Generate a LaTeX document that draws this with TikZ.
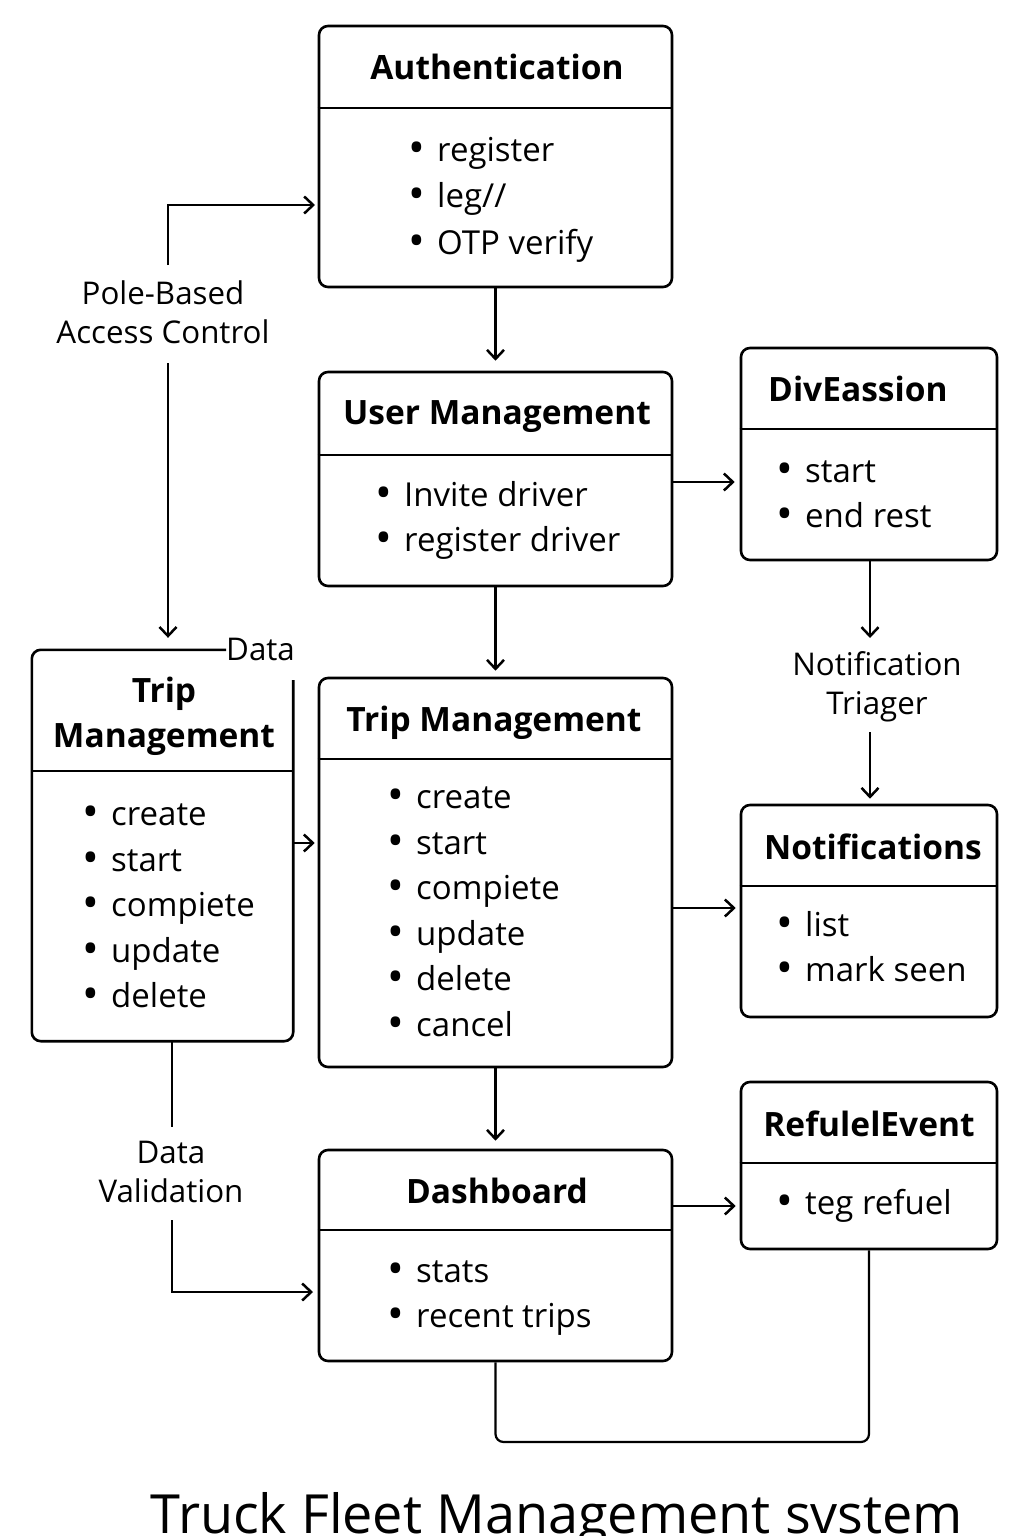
\documentclass[tikz,border=0pt]{standalone}
\usepackage{fontspec}
\usepackage{graphicx}
\setmainfont{Open Sans}
\usetikzlibrary{arrows.meta}
\newcommand\bul[1]{\makebox[29pt][l]{\raisebox{-2pt}{\scalebox{1.35}{\textbullet}}}#1}
\begin{document}
\begin{tikzpicture}[x=1pt,y=-1pt,
  box/.style={draw, line width=2.6pt, rounded corners=9pt, inner sep=0pt},
  ghost/.style={inner sep=0pt},
  ttl/.style={font=\fontsize{33.5}{45}\selectfont\bfseries, inner sep=0pt, text depth=0pt},
  items/.style={font=\fontsize{33}{45.5}\selectfont, align=left, anchor=west, inner sep=0pt},
  lbl/.style={font=\fontsize{31.3}{39}\selectfont, align=center, inner sep=0pt},
  divider/.style={line width=2.2pt},
  conn/.style={line width=2.2pt, -{Straight Barb[length=9pt,width=17pt,line width=2.5pt]}},
  plain/.style={line width=2.2pt},
]
\useasboundingbox[fill=white] (0,0) rectangle (1024,1536);

% ---------- Authentication ----------
\node[box, minimum width=353pt, minimum height=261pt] (auth) at (495.5,156.5) {};
\draw[divider] (auth.west |- 0,108) -- (auth.east |- 0,108);
\node[ttl] (authT) at (497,67) {Authentication};
\node[items, font=\fontsize{33}{46.5}\selectfont] (authL) at (408,199.5) {\bul{register}\\\bul{leg//}\\\bul{OTP verify}};

% ---------- User Management ----------
\node[box, minimum width=353pt, minimum height=214pt] (user) at (495.5,479) {};
\draw[divider] (user.west |- 0,455) -- (user.east |- 0,455);
\node[ttl] (userT) at (497,413) {User Management};
\node[items] (userL) at (375,520.5) {\bul{Invite driver}\\\bul{register driver}};

% ---------- DivEassion ----------
\node[box, minimum width=256pt, minimum height=212pt] (div) at (869,454) {};
\draw[divider] (div.west |- 0,429) -- (div.east |- 0,429);
\node[ttl, anchor=west] (divT) at (768,389) {DivEassion};
\node[items] (divL) at (776,495) {\bul{start}\\\bul{end rest}};

% ---------- Notifications ----------
\node[box, minimum width=256pt, minimum height=212pt] (notif) at (869,911) {};
\draw[divider] (notif.west |- 0,886) -- (notif.east |- 0,886);
\node[ttl] (notifT) at (873,847) {Notifications};
\node[items] (notifL) at (776,947.5) {\bul{list}\\\bul{mark seen}};

% ---------- Trip Management (middle) ----------
\node[box, minimum width=353pt, minimum height=389pt] (mtrip) at (495.5,872.5) {};
\draw[divider] (mtrip.west |- 0,759) -- (mtrip.east |- 0,759);
\node[ttl] (mtripT) at (494,719) {Trip Management};
\node[items] (mtripL) at (387,912.5) {\bul{create}\\\bul{start}\\\bul{compiete}\\\bul{update}\\\bul{delete}\\\bul{cancel}};

% ---------- Trip Management (left) ----------
\node[ghost, minimum width=261pt, minimum height=391pt] (ltrip) at (162.5,845.5) {};
\node[lbl, anchor=west] (data) at (226,649) {Data};
\draw[line width=2.6pt, rounded corners=9pt] (data.west |- ltrip.north) -- (ltrip.north west) -- (ltrip.south west) -- (ltrip.south east) -- (ltrip.east |- 0,680);
\draw[divider] (ltrip.west |- 0,771) -- (ltrip.east |- 0,771);
\node[ttl, align=center] (ltripT) at (164,712) {Trip\\Management};
\node[items] (ltripL) at (82,907) {\bul{create}\\\bul{start}\\\bul{compiete}\\\bul{update}\\\bul{delete}};

% ---------- Dashboard ----------
\node[box, minimum width=353pt, minimum height=211pt] (dash) at (495.5,1255.5) {};
\draw[divider] (dash.west |- 0,1230) -- (dash.east |- 0,1230);
\node[ttl] (dashT) at (497,1191) {Dashboard};
\node[items] (dashL) at (387,1298) {\bul{stats}\\\bul{recent trips}};

% ---------- RefulelEvent ----------
\node[box, minimum width=256pt, minimum height=167pt] (refuel) at (869,1165.5) {};
\draw[divider] (refuel.west |- 0,1163) -- (refuel.east |- 0,1163);
\node[ttl] (refuelT) at (869,1124) {RefulelEvent};
\node[items] (refuelL) at (776,1206) {\bul{teg refuel}};

% ---------- Labels ----------
\node[lbl] (pole) at (163,312.5) {Pole-Based\\Access Control};
\node[lbl] (ntrig) at (877,687) {Notification\\Triager};
\node[lbl] (dval) at (171,1172) {Data\\Validation};

% ---------- Connector helper coordinates ----------
\coordinate (p1) at (168,265);
\coordinate (p2) at (168,363);
\coordinate (authin) at (319,205);
\coordinate (n1) at (870,732);
\coordinate (dv1) at (172,1127);
\coordinate (dv2) at (172,1220);
\coordinate (dashin) at (319,1292);
\coordinate (loop) at (869,1442);

% ---------- Connectors ----------
\draw[conn, shorten >=10pt] (auth.south) -- (user.north);
\draw[conn, shorten >=4pt] (p1) |- (authin);
\draw[conn, shorten >=12pt] (p2) -- (p2 |- ltrip.north);
\draw[conn, shorten >=5pt] (user.east |- 0,482) -- (div.west |- 0,482);
\draw[conn, shorten >=6pt] (user.south) -- (mtrip.north);
\draw[conn] (div.south -| 870,0) -- (870,638);
\draw[conn, shorten >=5pt] (n1) -- (n1 |- notif.north);
\draw[conn, shorten >=3pt] (ltrip.east |- 0,843) -- (mtrip.west |- 0,843);
\draw[conn, shorten >=4pt] (mtrip.east |- 0,908) -- (notif.west |- 0,908);
\draw[conn, shorten >=8pt] (mtrip.south) -- (dash.north);
\draw[plain] (ltrip.south -| dv1) -- (dv1);
\draw[conn, shorten >=6pt] (dv2) |- (dashin);
\draw[conn, shorten >=4pt] (dash.east |- 0,1206) -- (refuel.west |- 0,1206);
\draw[plain, rounded corners=8pt] (dash.south) |- (loop) -- (refuel.south);

% ---------- Title ----------
\node[font=\fontsize{54}{60}\selectfont, anchor=base, inner sep=0pt] (title) at (557,1533) {Truck Fleet Management svstem};
\end{tikzpicture}
\end{document}
